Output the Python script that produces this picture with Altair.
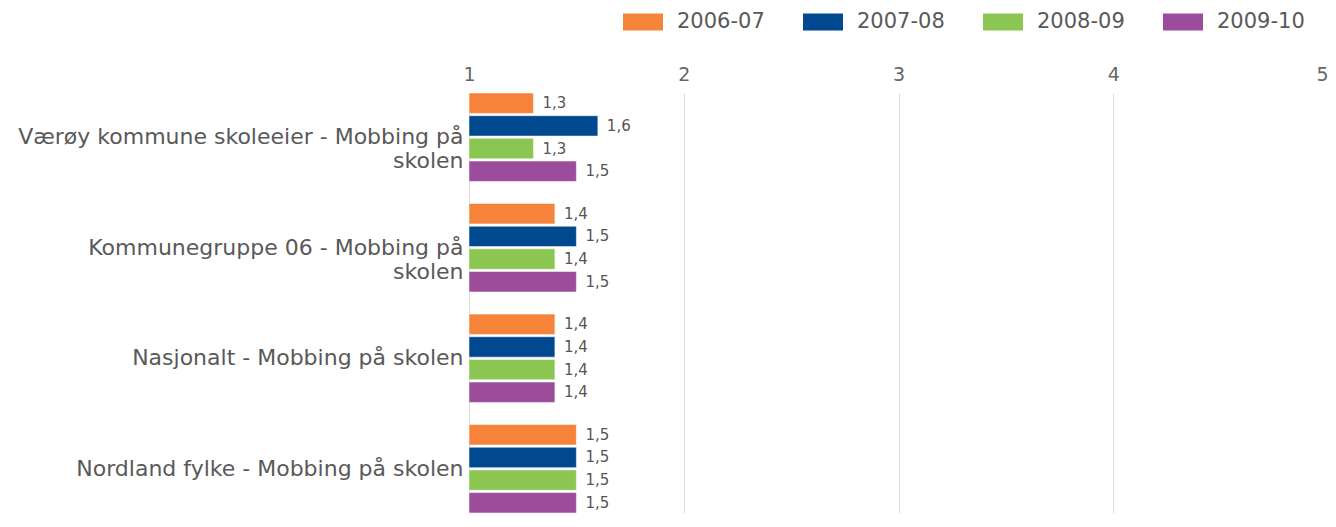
import json
import altair as alt
import pandas as pd

# ---- data ----
categories = [
    "Værøy kommune skoleeier - Mobbing på skolen",
    "Kommunegruppe 06 - Mobbing på skolen",
    "Nasjonalt - Mobbing på skolen",
    "Nordland fylke - Mobbing på skolen",
]
category_lines = [
    ["Værøy kommune skoleeier - Mobbing på", "skolen"],
    ["Kommunegruppe 06 - Mobbing på", "skolen"],
    ["Nasjonalt - Mobbing på skolen"],
    ["Nordland fylke - Mobbing på skolen"],
]
years = ["2006-07", "2007-08", "2008-09", "2009-10"]
values_2006_07 = [1.3, 1.4, 1.4, 1.5]
values_2007_08 = [1.6, 1.5, 1.4, 1.5]
values_2008_09 = [1.3, 1.4, 1.4, 1.5]
values_2009_10 = [1.5, 1.5, 1.4, 1.5]
x_ticks = [1, 2, 3, 4, 5]
colors = ["#F5843A", "#00498F", "#8BC653", "#9B4D9B"]

series = [values_2006_07, values_2007_08, values_2008_09, values_2009_10]
rows = []
for yr, vals in zip(years, series):
    for cat, v in zip(categories, vals):
        rows.append({"category": cat, "year": yr, "value": v})
df = pd.DataFrame(rows)

# multi-line category labels
expr = "datum.label"
for cat, lines in reversed(list(zip(categories, category_lines))):
    if len(lines) > 1:
        expr = (f"datum.value == {json.dumps(cat, ensure_ascii=False)} ? "
                f"{json.dumps(lines, ensure_ascii=False)} : " + expr)

FONT = "DejaVu Sans"

y_enc = alt.Y(
    "category:N", sort=categories, title=None,
    scale=alt.Scale(paddingInner=0.2, paddingOuter=0, range=[0, 420]),
    axis=alt.Axis(labelExpr=expr, labelFont=FONT, labelFontSize=22, labelColor="#595959",
                  labelPadding=6, labelLineHeight=24, labelLimit=0, ticks=False, domain=False),
)
yoff_enc = alt.YOffset("year:N", sort=years, scale=alt.Scale(paddingInner=0.1))

base = alt.Chart(df).transform_calculate(
    start="1",
    label="replace(format(datum.value, '.1f'), '.', ',')",
)

bars = base.mark_bar(stroke="white", strokeWidth=1, strokeOpacity=0.5).encode(
    y=y_enc,
    yOffset=yoff_enc,
    x=alt.X("value:Q", title=None,
            scale=alt.Scale(domain=[1, 5], nice=False, zero=False),
            axis=alt.Axis(orient="top", values=x_ticks, format="d", labelFont=FONT,
                          labelFontSize=19, labelColor="#666666", labelPadding=9,
                          labelFlush=False,
                          labelAlign=alt.condition("datum.value == 5", alt.value("right"),
                                                   alt.value("center")),
                          ticks=False, domain=False, grid=True, gridColor="#dddddd",
                          gridWidth=1)),
    x2="start:Q",
    color=alt.Color("year:N", sort=years,
                    scale=alt.Scale(domain=years, range=colors),
                    legend=alt.Legend(orient="none", legendX=154, legendY=-91,
                                      direction="horizontal", columns=4, title=None,
                                      symbolType="M-1,-0.42L1,-0.42L1,0.42L-1,0.42Z",
                                      symbolSize=1600, symbolStrokeWidth=0,
                                      symbolOpacity=1,
                                      labelFont=FONT, labelFontSize=21,
                                      labelColor="#595959", labelOffset=14,
                                      columnPadding=38, padding=0)),
)

text = base.mark_text(align="left", baseline="middle", dx=9, font=FONT,
                      fontSize=15, color="#555555").encode(
    y=alt.Y("category:N", sort=categories),
    yOffset=alt.YOffset("year:N", sort=years),
    x=alt.X("value:Q"),
    text="label:N",
)

chart = alt.layer(bars, text).properties(
    width=859, height=425,
    autosize=alt.AutoSizeParams(type="none"),
    padding={"left": 461, "top": 85, "right": 0, "bottom": 0},
).configure_view(stroke=None)

chart.save("out.html", embed_options={"renderer": "svg", "actions": False})
